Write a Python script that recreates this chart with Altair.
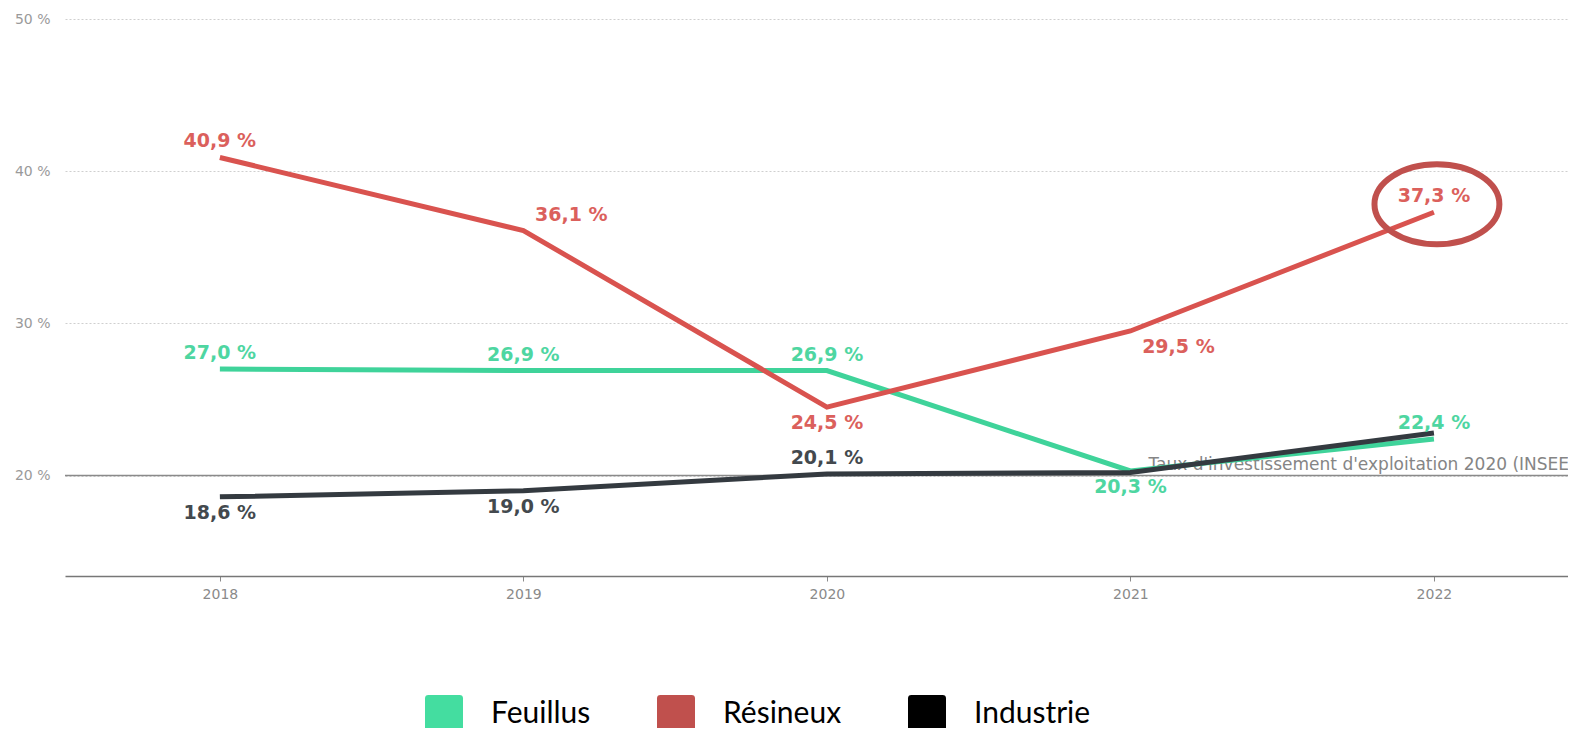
import altair as alt
import pandas as pd

years = ["2018", "2019", "2020", "2021", "2022"]
series = ["Feuillus", "Résineux", "Industrie"]
feuillus = [27.0, 26.9, 26.9, 20.3, 22.4]
resineux = [40.9, 36.1, 24.5, 29.5, 37.3]
industrie = [18.6, 19.0, 20.1, 20.2, 22.8]
# where each value label sits relative to its point
pos_feuillus = ["above", "above", "above", "below", "above"]
pos_resineux = ["above", "above-right", "below", "below-right", "above"]
pos_industrie = ["below", "below", "above", "none", "none"]

line_colors = ["#3fd39a", "#d9534f", "#343a40"]
legend_colors = ["#44dda0", "#c0504d", "#000000"]

ref_value = [20]
ref_label = ["Taux d'investissement d'exploitation 2020 (INSEE)"]
ref_year = ["2021"]
highlight_series = "Résineux"
highlight_year = "2022"

rows = []
for name, col, vals, poss in [("Feuillus", line_colors[0], feuillus, pos_feuillus),
                              ("Résineux", line_colors[1], resineux, pos_resineux),
                              ("Industrie", line_colors[2], industrie, pos_industrie)]:
    for y, v, p in zip(years, vals, poss):
        rows.append({"Année": y, "Série": name, "Valeur": v, "pos": p, "couleur": col})
df = pd.DataFrame(rows)
ref_df = pd.DataFrame({"Valeur": ref_value, "label": ref_label, "Année": ref_year})

x_scale = alt.Scale(type="point", padding=0.476, align=0.536, domain=years)
X = alt.X("Année:O", scale=x_scale, title=None)
y_scale = alt.Scale(domain=[13.4, 50], nice=False, zero=False)
Y = alt.Y("Valeur:Q", scale=y_scale, title=None,
          axis=alt.Axis(values=[20, 30, 40, 50], labelExpr="datum.value + ' %'"))
color_enc = alt.Color("couleur:N", scale=None)

base = alt.Chart(df)

ref_rule = alt.Chart(ref_df).mark_rule(color="#8a8a8a", strokeWidth=1.5).encode(y=Y)
ref_text = alt.Chart(ref_df).mark_text(align="left", baseline="bottom", dx=18, dy=-2,
                                       font="DejaVu Sans", fontSize=17, color="#858585").encode(
    x=X, y=Y, text="label:N")

lines = base.mark_line(strokeWidth=5).encode(x=X, y=Y, color=color_enc,
                                             detail="Série:N", order=alt.Order("Année:O"))

def labels(pos, dx, dy):
    return base.transform_filter(alt.datum.pos == pos).transform_calculate(
        txt="replace(format(datum.Valeur, '.1f'), '.', ',') + ' %'"
    ).mark_text(font="DejaVu Sans", fontWeight="bold", fontSize=19, dx=dx, dy=dy,
                baseline="middle", opacity=0.92).encode(x=X, y=Y, text="txt:N", color=color_enc)

lab_above = labels("above", 0, -16)
lab_below = labels("below", 0, 16)
lab_above_r = labels("above-right", 48, -16)
lab_below_r = labels("below-right", 48, 16)

ellipse = base.transform_filter(
    (alt.datum["Série"] == highlight_series) & (alt.datum["Année"] == highlight_year)
).mark_point(shape="M-1,0 A1,0.64 0 1,1 1,0 A1,0.64 0 1,1 -1,0 Z", size=15600,
             filled=False, stroke="#c0504d", strokeWidth=6, opacity=1,
             xOffset=3, yOffset=-8).encode(x=X, y=Y)

legend_layer = base.transform_filter(alt.datum["Année"] == "2018").mark_square(
    filled=True, opacity=0).encode(
    x=X, y=Y,
    fill=alt.Fill("Série:N", scale=alt.Scale(domain=series, range=legend_colors),
                  legend=alt.Legend(title=None, orient="none", legendX=360, legendY=676,
                                    direction="horizontal", symbolSize=1444,
                                    symbolType="M-1,-0.82 Q-1,-1 -0.82,-1 L0.82,-1 Q1,-1 1,-0.82 L1,0.82 Q1,1 0.82,1 L-0.82,1 Q-1,1 -1,0.82 Z",
                                    symbolStrokeWidth=0, symbolOpacity=1,
                                    labelFont="Lato", labelFontSize=30, labelColor="#000000",
                                    labelOffset=28, columnPadding=66, padding=0,
                                    labelLimit=400)))

chart = alt.layer(ref_rule, ref_text, lines, lab_above, lab_below, lab_above_r,
                  lab_below_r, ellipse, legend_layer).properties(
    width=1503, height=557,
    background="white",
    autosize=alt.AutoSizeParams(type="none"),
    padding={"left": 57, "top": 11, "right": 0, "bottom": 152},
).configure_view(strokeWidth=0, stroke="transparent").configure_axisX(
    labelFont="DejaVu Sans", labelFontSize=14, labelColor="#8a8a8a", tickColor="#8a8a8a",
    tickSize=5, domainColor="#777777", domainWidth=1.5, labelPadding=6, labelAngle=0,
    grid=False
).configure_axisY(
    labelFont="DejaVu Sans", labelFontSize=14, labelColor="#9a9a9a", ticks=False,
    domain=False, labelPadding=15, grid=True, gridColor="#cfcfcf", gridDash=[2, 2],
    gridWidth=1
)

chart.save("out.html", embed_options={"renderer": "svg", "actions": False})
